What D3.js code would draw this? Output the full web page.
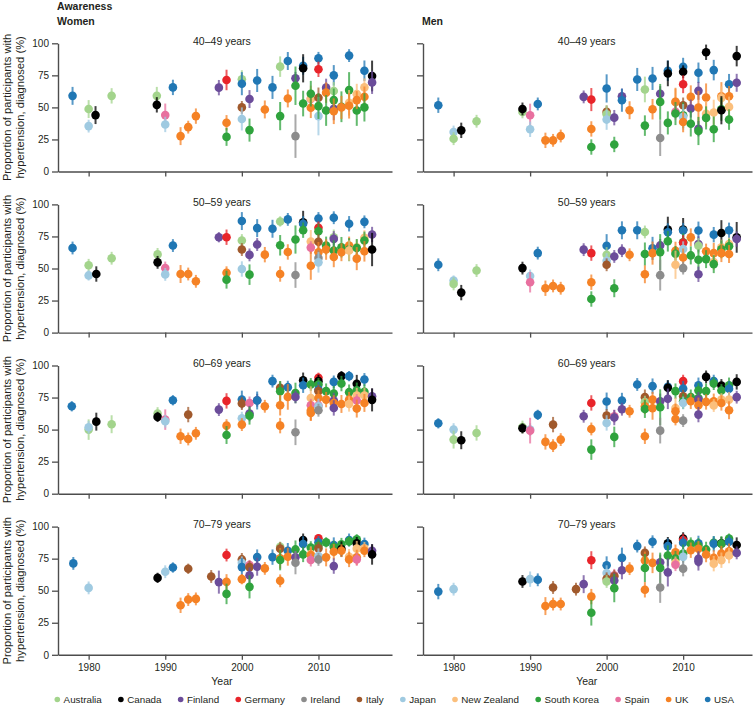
<!DOCTYPE html>
<html><head><meta charset="utf-8">
<script src="https://cdn.jsdelivr.net/npm/d3@7"></script>
<style>
body{margin:0;background:#fff}
svg{display:block}
text{font-family:"Liberation Sans",Arial,sans-serif;fill:#231f20}
</style>
</head><body>
<svg id="chart" width="756" height="706"></svg>
<script>
// ---------- data ----------
const countryCodes = ["AUS","CAN","FIN","GER","IRL","ITA","JPN","NZL","KOR","ESP","GBR","USA"];
const countryNames = ["Australia","Canada","Finland","Germany","Ireland","Italy","Japan","New Zealand","South Korea","Spain","UK","USA"];
const countryColors = ["#a3d48c","#000000","#6b4c9a","#e8242a","#8c8c8c","#a0592c","#9fcae1","#fbbf7c","#2fa33d","#e8709f","#f58225","#2077b4"];
const sexes = ["Women","Men"];
const ageGroups = ["40–49 years","50–59 years","60–69 years","70–79 years"];
const yTicks = [0,25,50,75,100];
const xTicks = [1980,1990,2000,2010];

// [country, survey year, % diagnosed, half-width of 95% interval]
const women40 = [
["USA",1977.9,59,7],["AUS",1980,48.7,7],["JPN",1980,35.4,5],["CAN",1980.9,44,7],["AUS",1983,59,6],
["AUS",1988.9,59,7],["CAN",1988.9,52,6],["ESP",1990,44,9],["JPN",1990,36.7,6],["USA",1991,65.6,6],
["GBR",1992,27.6,7],["GBR",1993,34.6,5],["GBR",1994,43.2,6],["FIN",1997,65.4,6],["GER",1998,71.4,8],
["GBR",1998,38,6],["KOR",1998,27,7],["AUS",2000,72,7],["USA",2000,68.5,9],["ITA",2000,50,5],
["JPN",2000,41,9],["FIN",2001,56.5,7],["KOR",2001,32.3,9],["USA",2002,71,9],["GBR",2003,48.4,7],
["USA",2004,65.6,9],["KOR",2005,43.2,11],["AUS",2005,81.8,8],["GBR",2006,57,7],["USA",2006,86.2,7],
["FIN",2007,72.7,5],["KOR",2007,66.9,15],["IRL",2007,27.6,17],["USA",2008,82.5,7],["CAN",2008,80.5,11],
["KOR",2008,53,10],["ESP",2009,56.5,7],["NZL",2009,57,10],["GBR",2009,49.7,8],["KOR",2009,60.7,10],
["USA",2010,88.3,5],["GER",2010,79.7,6],["ITA",2010,57.5,8],["JPN",2010,43.2,15],["KOR",2010,51,10],
["FIN",2011,65.4,7],["GBR",2011,61.5,8],["KOR",2011,47.6,12],["FIN",2012,49,9],["USA",2012,75,8],
["AUS",2012,62.8,7],["KOR",2012,55.7,9],["GBR",2012,47,10],["KOR",2013,50.5,12],["GBR",2013,50,9],
["USA",2014,90.4,5],["KOR",2014,63.5,14],["NZL",2014,53.6,10],["GBR",2014,51.3,10],["KOR",2015,47.6,12],
["NZL",2015,60.4,8],["GBR",2015,55.7,7],["USA",2016,78.6,8],["NZL",2016,65.6,7],["GBR",2016,58.3,8],
["KOR",2016,50,11],["CAN",2017,74.5,12],["FIN",2017,69.5,9]
];
const women50 = [
["USA",1977.9,66,5],["AUS",1980,52.5,5],["JPN",1980,44.6,4],["CAN",1981,45.7,6],["AUS",1983,58,5],
["AUS",1989,61,5],["CAN",1989,54.8,5],["ESP",1990,50.4,5],["JPN",1990,45.4,5],["USA",1991,67.9,5],
["GBR",1992,45.7,7],["GBR",1993,45.7,5],["GBR",1994,40,5],["FIN",1997,74.4,4],["GER",1998,74.4,6],
["GBR",1998,46.7,5],["KOR",1998,41.3,7],["USA",2000,87,7],["AUS",2000,71.8,5],["ITA",2000,64.8,5],
["JPN",2000,49.6,6],["FIN",2001,60.6,5],["KOR",2001,45.2,8],["USA",2002,81.5,7],["FIN",2002,68.7,5],
["GBR",2003,60.8,6],["USA",2004,81,7],["AUS",2005,86.7,4],["KOR",2005,68.1,8],["GBR",2005,45.7,6],
["USA",2006,88.3,5],["GBR",2006,62.9,6],["KOR",2007,72.6,11],["IRL",2007,44.9,10],["CAN",2008,86,9],
["USA",2008,84.9,6],["KOR",2008,79.9,6],["NZL",2009,71,9],["ESP",2009,66.3,5],["GBR",2009,52.2,11],
["USA",2010,89,5],["GER",2010,81.7,5],["KOR",2010,79,6],["ITA",2010,70.8,6],["GBR",2010,62.7,8],
["IRL",2010,58.2,6],["JPN",2010,54.8,8],["KOR",2011,67.9,7],["GBR",2011,64.8,8],["USA",2012,89.6,5],
["AUS",2012,74.4,6],["FIN",2012,73.1,6],["KOR",2012,64,8],["GBR",2012,59,8],["KOR",2013,66.6,8],
["GBR",2013,62.7,7],["USA",2014,84.9,6],["GBR",2014,67.9,7],["KOR",2014,64.7,9],["NZL",2014,64,8],
["NZL",2015,66.6,6],["KOR",2015,66,7],["GBR",2015,57.7,9],["USA",2016,86.4,5],["NZL",2016,73.9,6],
["KOR",2016,71.8,7],["GBR",2016,63.4,8],["FIN",2017,76.5,6],["CAN",2017,64.8,13]
];
const women60 = [
["USA",1977.8,68.2,4],["AUS",1980,50,8],["JPN",1980,51.8,5],["CAN",1981,56.2,7],["AUS",1983,54.2,7],
["AUS",1989,62.5,5],["CAN",1989,59.9,4],["ESP",1990,57.8,8],["JPN",1990,56.5,5],["USA",1991,72.9,4],
["GBR",1992,44.8,6],["ITA",1993,61.7,6],["GBR",1993,42.7,5],["GBR",1994,47.1,5],["FIN",1997,65.6,5],
["GER",1998,72.4,6],["GBR",1998,53.1,5],["KOR",1998,45.8,7],["USA",2000,73.4,7],["ITA",2000,70.3,5],
["JPN",2000,58.9,5],["GBR",2000,53.9,5],["ESP",2001,70.8,5],["FIN",2001,62.5,6],["KOR",2001,60.9,7],
["FIN",2002,72.9,5],["USA",2002,72.7,7],["GBR",2003,68.2,5],["USA",2004,87.8,5],["ITA",2005,82.6,5],
["KOR",2005,79.9,8],["GBR",2005,69,8],["GBR",2005,53.1,6],["USA",2006,83.1,5],["GBR",2006,75.5,10],
["KOR",2007,78.6,8],["FIN",2007,75.5,5],["IRL",2007,47.9,10],["CAN",2008,88.5,6],["USA",2008,84.6,6],
["KOR",2009,85.2,5],["NZL",2009,74.7,9],["ESP",2009,69,5],["GBR",2009,64.8,8],["GBR",2009,63,6],
["GER",2010,90.4,4],["CAN",2010,87.8,5],["KOR",2010,85.2,5],["USA",2010,81.3,6],["ITA",2010,80,5],
["GBR",2010,74.7,6],["ESP",2010,68.8,5],["JPN",2010,68.2,6],["IRL",2010,65.1,5],["KOR",2011,80,6],
["GBR",2011,73.4,6],["USA",2012,87.2,5],["KOR",2012,78.1,6],["FIN",2012,72.7,6],["GBR",2012,70.8,6],
["FIN",2012,66.9,6],["CAN",2013,91.7,4],["KOR",2013,85.9,6],["GBR",2013,70,7],["USA",2014,91.7,4],
["KOR",2014,79.2,6],["GBR",2014,73.4,6],["NZL",2014,70,6],["CAN",2015,85.7,7],["KOR",2015,80.7,6],
["NZL",2015,76.6,6],["ESP",2015,72.7,5],["GBR",2015,66.4,7],["USA",2016,89.1,5],["KOR",2016,79.4,6],
["NZL",2016,76.6,6],["GBR",2016,70.8,7],["FIN",2017,76,6],["CAN",2017,73.2,9]
];
const women70 = [
["USA",1978,71.3,5],["JPN",1980,52.2,5],["CAN",1989,60,4],["JPN",1990,64.8,5],["USA",1991,68.1,4],
["GBR",1992,38.6,6],["ITA",1993,67.1,4],["GBR",1993,43.1,5],["GBR",1994,43.6,5],["ITA",1996,61.1,5],
["FIN",1997,56.7,9],["GER",1998,77.8,5],["GBR",1998,56.9,6],["KOR",1998,47.5,8],["ITA",2000,74.4,5],
["JPN",2000,71.8,5],["USA",2000,68.4,7],["GBR",2000,59,4],["ESP",2001,70,4],["ITA",2001,68.4,5],
["FIN",2001,62.1,6],["KOR",2001,53,9],["USA",2002,76.2,6],["FIN",2002,68.7,7],["GBR",2003,67.4,5],
["USA",2004,76.2,6],["AUS",2005,84.3,4],["ITA",2005,82.8,5],["GBR",2005,75.2,8],["KOR",2005,73.9,8],
["GBR",2005,57.7,5],["USA",2006,81.2,6],["GBR",2006,76.5,7],["KOR",2007,82.2,7],["FIN",2007,76,5],
["IRL",2007,71.8,9],["CAN",2008,89.6,5],["USA",2008,86.4,6],["KOR",2008,78.3,6],["KOR",2009,83.6,5],
["NZL",2009,78.6,6],["GBR",2009,77.8,6],["ESP",2009,73.9,5],["GER",2010,90.9,3],["USA",2010,87.7,5],
["KOR",2010,85.1,5],["ITA",2010,83,5],["JPN",2010,77,6],["IRL",2010,74.4,5],["KOR",2011,87.7,4],
["GBR",2011,76,7],["USA",2012,85.6,6],["KOR",2012,84,5],["GBR",2012,80.4,6],["FIN",2012,69.2,6],
["KOR",2013,86.2,5],["CAN",2013,82.5,6],["GBR",2013,81.2,5],["USA",2014,89.6,5],["KOR",2014,88.5,4],
["NZL",2014,76.5,6],["GBR",2014,74.4,6],["KOR",2015,90.1,4],["CAN",2015,86.9,5],["NZL",2015,82.8,6],
["GBR",2015,76,6],["ESP",2015,74.4,5],["USA",2016,86.4,5],["NZL",2016,83,5],["GBR",2016,81.2,5],
["FIN",2017,81.2,5],["CAN",2017,78.3,8]
];
const men40 = [
["USA",1978,51.7,6],["JPN",1980,30.8,5],["AUS",1980,25.6,5],["CAN",1981,32.1,6],["AUS",1983,39.2,5],
["AUS",1989,46.5,5],["CAN",1989,48.8,5],["ESP",1990,43.9,9],["JPN",1990,32.9,6],["USA",1991,52.7,5],
["GBR",1992,24.3,6],["GBR",1993,24.3,5],["GBR",1994,27.7,5],["FIN",1997,58.2,5],["GER",1998,56.1,9],
["GBR",1998,33.2,6],["KOR",1998,19.1,6],["USA",2000,64.8,11],["ITA",2000,46.5,5],["AUS",2000,44.6,7],
["JPN",2000,40.5,8],["FIN",2001,42,6],["KOR",2001,21.1,6],["FIN",2002,58.7,6],["USA",2002,55.6,9],
["GBR",2003,47.8,7],["USA",2004,71.8,9],["AUS",2005,64,10],["KOR",2005,35.8,8],["USA",2006,72.6,9],
["GBR",2006,48.6,8],["FIN",2007,60.6,6],["KOR",2007,54.3,14],["IRL",2007,26.1,14],["USA",2008,78.6,8],
["CAN",2008,76.5,10],["KOR",2008,37.9,9],["NZL",2009,54.3,10],["GBR",2009,54.3,11],["ESP",2009,46.5,6],
["KOR",2009,45.2,9],["USA",2010,81.7,7],["CAN",2010,77.8,5],["GER",2010,68.1,7],["ITA",2010,51.7,6],
["KOR",2010,43.9,10],["JPN",2010,42.6,10],["GBR",2010,38.6,8],["GBR",2011,58.2,9],["FIN",2011,49.1,7],
["KOR",2011,37.3,10],["USA",2012,77,8],["FIN",2012,62.9,7],["GBR",2012,49.9,13],["FIN",2012,33.4,6],
["KOR",2012,31.6,11],["CAN",2013,93,6],["GBR",2013,57.7,11],["NZL",2013,45,10],["KOR",2013,41.8,9],
["USA",2014,79.1,8],["NZL",2014,46,10],["KOR",2014,32.9,10],["GBR",2015,58.7,11],["NZL",2015,57.4,9],
["KOR",2015,48.6,9],["CAN",2015,47.8,11],["USA",2016,68.1,8],["GBR",2016,58.7,8],["NZL",2016,50.4,8],
["KOR",2016,40.5,8],["CAN",2017,90,8],["FIN",2017,69.2,7]
];
const men50 = [
["USA",1978,52.9,5],["JPN",1980,40.6,4],["AUS",1980,38,5],["CAN",1981,31.2,6],["AUS",1983,48.4,5],
["CAN",1989,50.3,5],["JPN",1990,44.2,5],["ESP",1990,39.3,8],["USA",1991,62,5],["GBR",1992,34.6,6],
["GBR",1993,36.4,5],["GBR",1994,34.6,5],["FIN",1997,64.7,5],["GER",1998,62,6],["GBR",1998,39.3,6],
["KOR",1998,26.2,6],["USA",2000,67.8,9],["AUS",2000,60.7,6],["JPN",2000,56,6],["ITA",2000,52.9,5],
["FIN",2001,59.4,5],["KOR",2001,34.6,7],["USA",2002,79.8,7],["FIN",2002,63.9,5],["GBR",2003,60.7,5],
["USA",2004,79.8,7],["AUS",2005,78.5,5],["KOR",2005,61.3,9],["GBR",2005,45.5,7],["USA",2006,65.7,9],
["GBR",2006,62,9],["FIN",2007,68,5],["KOR",2007,62.8,14],["IRL",2007,44.8,12],["CAN",2008,80.4,10],
["USA",2008,78.3,7],["KOR",2008,71.2,8],["GBR",2009,63.9,7],["KOR",2009,61.5,6],["NZL",2009,52.9,11],
["CAN",2010,80.4,9],["USA",2010,79.6,6],["KOR",2010,70.4,7],["GER",2010,70,6],["JPN",2010,65.2,6],
["GBR",2010,58.6,7],["IRL",2010,50.3,5],["GBR",2011,74.3,7],["KOR",2011,60.2,7],["USA",2012,79.6,7],
["FIN",2012,69.1,6],["AUS",2012,67.8,6],["KOR",2012,56.8,8],["FIN",2012,45.5,6],["GBR",2013,63.4,6],
["KOR",2013,57.3,7],["USA",2014,76.4,6],["GBR",2014,62,8],["NZL",2014,55,6],["KOR",2014,53.4,7],
["CAN",2015,77.7,10],["NZL",2015,66.5,6],["KOR",2015,65,7],["GBR",2015,62,7],["USA",2016,79.8,6],
["NZL",2016,69.1,5],["KOR",2016,67.3,6],["GBR",2016,61.3,7],["CAN",2017,74.3,12],["FIN",2017,73,6]
];
const men60 = [
["USA",1978,54.9,4],["JPN",1980,50,5],["AUS",1980,42.2,7],["CAN",1981,41.7,7],["AUS",1983,47.4,6],
["AUS",1989,52,5],["CAN",1989,51,4],["JPN",1990,50,5],["ESP",1990,49.2,10],["USA",1991,61.5,4],
["GBR",1992,40.4,6],["ITA",1993,53.9,6],["GBR",1993,37.5,5],["GBR",1994,42.2,5],["FIN",1997,60.4,5],
["GER",1998,70.8,6],["GBR",1998,50.5,5],["KOR",1998,34.4,8],["USA",2000,71.9,7],["ITA",2000,60.9,5],
["JPN",2000,55.2,6],["ESP",2001,60.4,5],["FIN",2001,59.4,6],["KOR",2001,44.3,8],["USA",2002,72.7,6],
["FIN",2002,65.9,5],["GBR",2003,64.3,5],["USA",2004,85.2,5],["ITA",2005,75.3,6],["AUS",2005,71.4,5],
["GBR",2005,68.2,6],["KOR",2005,66.1,7],["GBR",2005,44.8,6],["USA",2006,83.9,6],["GBR",2006,73.4,6],
["GBR",2006,66.7,9],["FIN",2007,72.1,6],["KOR",2007,67.4,14],["IRL",2007,49.2,10],["USA",2008,83.3,5],
["CAN",2008,82.6,6],["FIN",2008,74,8],["KOR",2009,80,6],["NZL",2009,66.9,8],["GBR",2009,64.3,6],
["GBR",2009,58.3,5],["GER",2010,87.8,5],["USA",2010,82,6],["ITA",2010,76,5],["KOR",2010,72.1,6],
["JPN",2010,70.8,5],["IRL",2010,57,5],["KOR",2011,75.3,6],["GBR",2011,72.1,6],["USA",2012,84.6,6],
["KOR",2012,80.5,6],["KOR",2012,74.7,6],["FIN",2012,73.4,6],["GBR",2012,69,6],["FIN",2012,61.7,6],
["CAN",2013,91.1,5],["KOR",2013,80,6],["GBR",2013,71.6,6],["USA",2014,87.8,5],["KOR",2014,85.9,5],
["GBR",2014,72.1,6],["NZL",2014,68.8,5],["CAN",2015,84.4,5],["KOR",2015,80.5,5],["NZL",2015,73.4,5],
["GBR",2015,70.8,6],["KOR",2016,84.6,6],["USA",2016,81.8,6],["NZL",2016,73.4,6],["GBR",2016,65.1,7],
["CAN",2017,87.2,6],["FIN",2017,75.3,5]
];
const men70 = [
["USA",1978,49.3,6],["JPN",1980,51.2,5],["CAN",1989,57.2,5],["JPN",1990,59,6],["USA",1991,58.5,5],
["GBR",1992,38,7],["ITA",1993,52.5,5],["GBR",1993,39.6,5],["GBR",1994,39.6,5],["ITA",1996,51.2,5],
["FIN",1997,55.1,7],["GER",1998,73.8,7],["GBR",1998,45.4,6],["KOR",1998,32.8,10],["USA",2000,69.8,7],
["JPN",2000,63.8,6],["ITA",2000,59.3,5],["AUS",2000,57.2,5],["ESP",2001,62,5],["ITA",2001,61.2,5],
["FIN",2001,58,6],["KOR",2001,52,11],["USA",2002,75.6,8],["FIN",2002,65.9,7],["GBR",2003,67.2,5],
["USA",2004,84.8,5],["ITA",2005,79.5,5],["GBR",2005,73.5,7],["KOR",2005,67.7,11],["GBR",2005,50.7,6],
["USA",2006,88.2,5],["GBR",2006,71.7,8],["FIN",2007,72.2,6],["KOR",2007,67.7,12],["IRL",2007,52.5,12],
["CAN",2008,86.9,5],["USA",2008,84.8,6],["KOR",2008,77.4,8],["FIN",2008,64.3,11],["GBR",2009,80,6],
["KOR",2009,75,6],["NZL",2009,71.7,5],["ESP",2009,70.3,5],["CAN",2010,90.6,5],["GER",2010,89.5,5],
["USA",2010,87.4,5],["KOR",2010,79,7],["JPN",2010,76.4,6],["IRL",2010,67.2,6],["KOR",2011,86.6,5],
["GBR",2011,81.6,6],["USA",2012,86.9,6],["KOR",2012,85,6],["GBR",2012,82.7,6],["FIN",2012,74.8,6],
["FIN",2012,72.7,7],["KOR",2013,82.2,6],["GBR",2013,78.2,6],["KOR",2014,87.4,5],["USA",2014,86.6,6],
["GBR",2014,75.6,6],["NZL",2014,71.1,6],["CAN",2015,86.9,5],["KOR",2015,86.6,6],["GBR",2015,79,6],
["NZL",2015,73.8,6],["KOR",2016,90.6,4],["USA",2016,88.2,5],["GBR",2016,80.8,6],["NZL",2016,77.4,6],
["CAN",2017,85.6,6],["FIN",2017,79.5,5]
];

const panelData = [[women40,women50,women60,women70],[men40,men50,men60,men70]];

// ---------- layout ----------
const svg = d3.select("#chart");
const colRange = [[58,392],[423,752]];
const colDomain = [[1976,2019.6],[1976,2019]];
const rowTop = r => 43.3 + 161.1*r;
const plotH = 128.2;
const colorOf = d3.scaleOrdinal().domain(countryCodes).range(countryColors);
const axisColor = "#4d4d4d";

svg.append("text").attr("x",57).attr("y",9.5).attr("font-size",10.5).attr("font-weight","bold").text("Awareness");

sexes.forEach((sex,s)=>{
  svg.append("text").attr("x",colRange[s][0]-1).attr("y",24.5).attr("font-size",10.5).attr("font-weight","bold").text(sex);
  ageGroups.forEach((age,a)=>{
    const top = rowTop(a), bottom = top+plotH;
    const x = d3.scaleLinear().domain(colDomain[s]).range(colRange[s]);
    const y = d3.scaleLinear().domain([0,100]).range([bottom,top]);
    const g = svg.append("g");

    const ya = g.append("g").attr("transform",`translate(${colRange[s][0]},0)`)
      .call(d3.axisLeft(y).tickValues(yTicks).tickSize(6).tickSizeOuter(0).tickPadding(3)
        .tickFormat(s===0 ? d3.format("d") : ()=>""));
    const xa = g.append("g").attr("transform",`translate(0,${bottom})`)
      .call(d3.axisBottom(x).tickValues(xTicks).tickSize(5).tickSizeOuter(0).tickPadding(4)
        .tickFormat(a===3 ? d3.format("d") : ()=>""));
    [ya,xa].forEach(ax=>{
      ax.select(".domain").attr("stroke",axisColor).attr("stroke-width",1.4);
      ax.selectAll(".tick line").attr("stroke",axisColor).attr("stroke-width",1.3);
      ax.selectAll(".tick text").attr("font-size",10).attr("fill","#333")
        .attr("font-family",'"Liberation Sans",Arial,sans-serif');
    });

    g.append("text").attr("x",x(1997.4)).attr("y",top+1.5).attr("text-anchor","middle")
      .attr("font-size",10.5).text(age);

    if (s===0){
      const cy = (top+bottom)/2;
      const lab = g.append("text").attr("transform",`translate(11,${cy}) rotate(-90)`)
        .attr("text-anchor","middle").attr("font-size",11.2);
      lab.append("tspan").attr("x",0).attr("dy",0).text("Proportion of participants with");
      lab.append("tspan").attr("x",0).attr("dy",13.3).text("hypertension, diagnosed (%)");
    }
    if (a===3){
      g.append("text").attr("x",x(1997.4)).attr("y",bottom+30).attr("text-anchor","middle")
        .attr("font-size",10.5).text("Year");
    }

    const data = panelData[s][a];
    const pts = g.append("g").selectAll("g").data(data).join("g");
    pts.append("line")
      .attr("x1",d=>x(d[1])).attr("x2",d=>x(d[1]))
      .attr("y1",d=>y(Math.max(0,d[2]-d[3]))).attr("y2",d=>y(Math.min(100,d[2]+d[3])))
      .attr("stroke",d=>colorOf(d[0])).attr("stroke-width",2).attr("stroke-opacity",0.75);
    pts.append("circle")
      .attr("cx",d=>x(d[1])).attr("cy",d=>y(d[2])).attr("r",4.3)
      .attr("fill",d=>colorOf(d[0]));
  });
});

// ---------- legend ----------
const legend = svg.append("g").attr("transform","translate(0,699.5)");
const legItems = legend.selectAll("g").data(countryCodes).join("g");
legItems.append("circle").attr("r",2.8).attr("fill",(c,i)=>countryColors[i]);
legItems.append("text").attr("x",6.3).attr("y",3.5).attr("font-size",9.8).text((c,i)=>countryNames[i]);
const widths = legItems.nodes().map(n=>d3.select(n).select("text").node().getComputedTextLength()+6.3);
const firstDot = 57.3, lastDot = 707.7;
const gap = (lastDot - firstDot - d3.sum(widths.slice(0,-1))) / (countryCodes.length-1);
let acc = firstDot;
legItems.each(function(c,i){
  d3.select(this).attr("transform",`translate(${acc},0)`);
  acc += widths[i] + gap;
});
</script>
</body></html>
